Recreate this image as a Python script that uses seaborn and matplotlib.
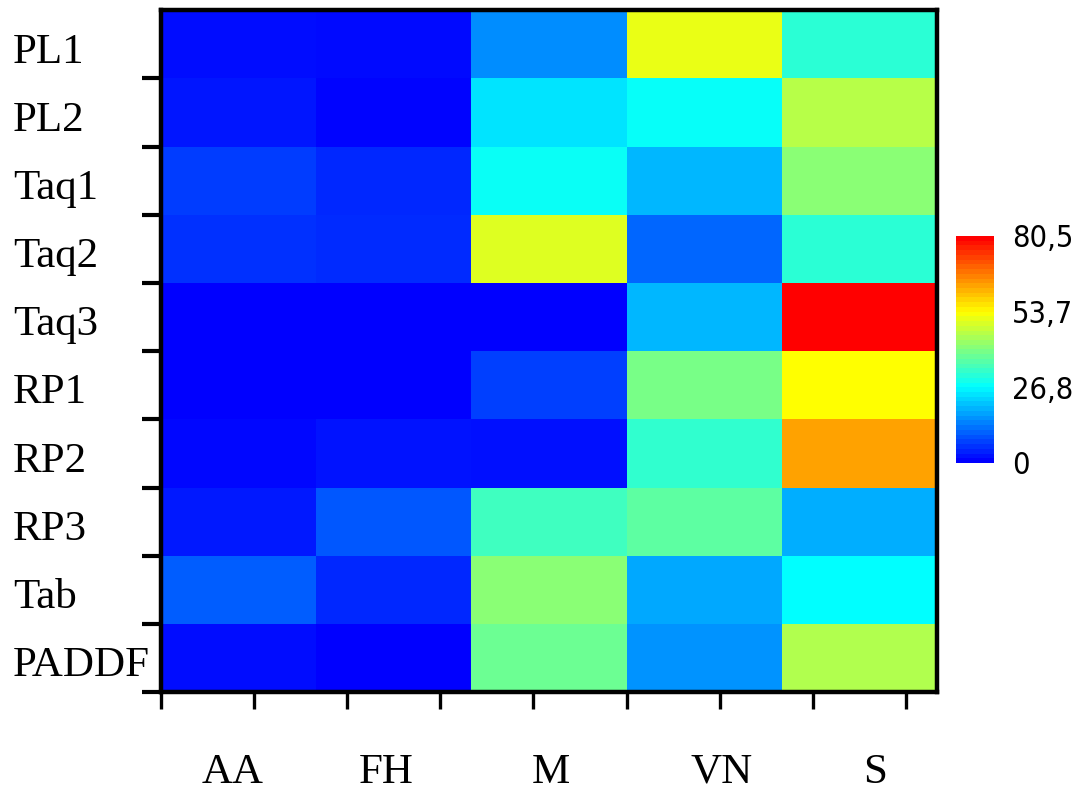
import numpy as np
import pandas as pd
import matplotlib
matplotlib.use("Agg")
import matplotlib.pyplot as plt
import matplotlib.cm as cm
from matplotlib.colors import LinearSegmentedColormap, Normalize
import seaborn as sns

rows = ["PL1", "PL2", "Taq1", "Taq2", "Taq3", "RP1", "RP2", "RP3", "Tab", "PADDF"]
cols = ["AA", "FH", "M", "VN", "S"]

AA = [1.5, 2.4, 6.5, 5.1, 0.0, 0.0, 0.8, 2.7, 9.9, 1.3]
FH = [1.0, 0.5, 4.2, 4.6, 0.0, 0.0, 2.1, 9.3, 4.2, 0.2]
M = [14.8, 24.2, 27.9, 50.0, 0.3, 6.7, 1.7, 33.5, 41.5, 38.2]
VN = [51.3, 27.5, 19.3, 10.7, 19.3, 39.5, 32.0, 36.5, 17.7, 15.5]
S = [31.4, 46.2, 41.5, 31.4, 80.5, 53.7, 63.3, 18.5, 26.8, 45.3]

cbar_ticks = [0, 26.8, 53.7, 80.5]
cbar_labels = ["0", "26,8", "53,7", "80,5"]

df = pd.DataFrame({"AA": AA, "FH": FH, "M": M, "VN": VN, "S": S}, index=rows)[cols]

stops = [(0, 0, 1), (0, 1, 1), (1, 1, 0), (1, 0, 0)]
cmap = LinearSegmentedColormap.from_list("bcyr", stops, N=256)
cmap_bar = LinearSegmentedColormap.from_list("bcyr_steps", stops, N=48)

sns.set_theme(style="white")
plt.rcParams["font.family"] = ["Liberation Serif", "DejaVu Serif"]
plt.rcParams["text.color"] = "black"
plt.rcParams["xtick.color"] = "black"
plt.rcParams["ytick.color"] = "black"
plt.rcParams["xtick.labelcolor"] = "black"
plt.rcParams["ytick.labelcolor"] = "black"

fig = plt.figure(figsize=(10.8, 7.91), dpi=100)
ax = fig.add_axes([0.149, 0.125, 0.7186, 0.862])
cax = fig.add_axes([0.885, 0.4147, 0.035, 0.287])

sns.heatmap(df, ax=ax, cbar=False, cmap=cmap, vmin=0, vmax=80.5)

sm = cm.ScalarMappable(norm=Normalize(0, 80.5), cmap=cmap_bar)
cb2 = fig.colorbar(sm, cax=cax, ticks=cbar_ticks)
cb2.outline.set_visible(False)
cax.set_yticklabels(cbar_labels, family=["DejaVu Sans"], fontsize=22,
                    fontstretch="condensed", color="black")
cax.tick_params(length=0, pad=13)

# frame
for s in ax.spines.values():
    s.set_visible(True)
    s.set_linewidth(3.2)
    s.set_color("black")

# y axis: ticks at boundaries, labels centred in rows
ax.set_yticks(np.arange(1, len(rows) + 1))
ax.set_yticklabels([""] * len(rows))
ax.set_yticks(np.arange(len(rows)) + 0.55, minor=True)
ax.set_yticklabels(rows, minor=True, fontsize=31, color="black")
ax.tick_params(axis="y", which="major", length=14, width=3, direction="out",
               color="black", left=True)
ax.tick_params(axis="y", which="minor", length=0, pad=106.5)
for lbl in ax.get_yticklabels(minor=True):
    lbl.set_ha("left")
    lbl.set_rotation(0)

# x axis: evenly spaced ticks, labels below
ax.set_xticks(np.linspace(0, 4.8, 9))
ax.set_xticklabels([""] * 9)
label_pos = [0.46, 1.45, 2.51, 3.61, 4.60]
ax.set_xticks(label_pos, minor=True)
ax.set_xticklabels(cols, minor=True, fontsize=31, color="black")
ax.tick_params(axis="x", which="major", length=12.5, width=2.4, direction="out",
               color="black", bottom=True)
ax.tick_params(axis="x", which="minor", length=0, pad=44)
for lbl in ax.get_xticklabels(minor=True):
    lbl.set_rotation(0)
ax.set_xlabel("")
ax.set_ylabel("")

fig.savefig("out.png", dpi=100)
